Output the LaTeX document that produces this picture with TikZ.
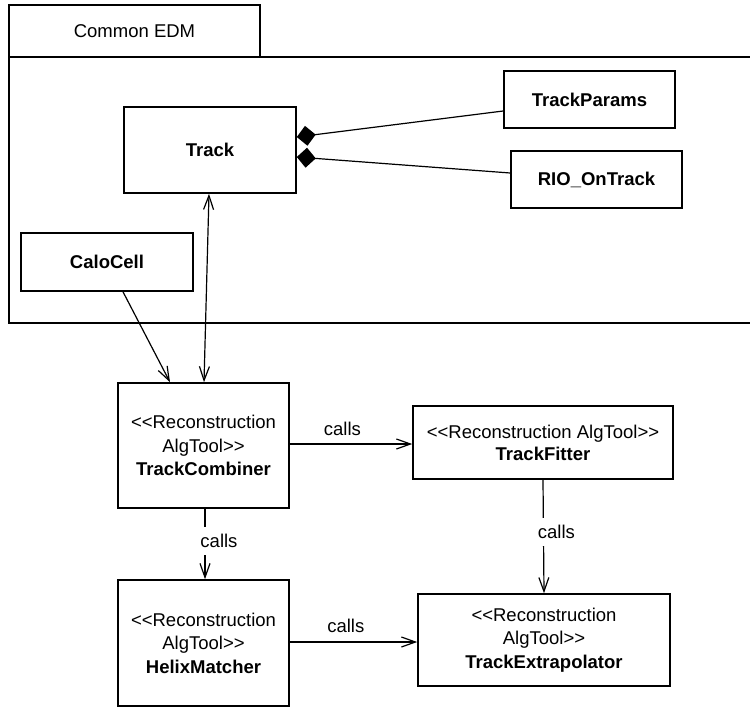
\documentclass[tikz,border=0pt]{standalone}
\usepackage{fontspec}
\setmainfont{Liberation Sans}
\usetikzlibrary{arrows.meta,calc}
% guillemet-free "<<" and ">>" (the kern stops the TeX ligature mapping)
\newcommand\ltlt{<\kern0pt<}
\newcommand\gtgt{>\kern0pt>}
\begin{document}
\begin{tikzpicture}[x=1bp,y=-1bp,
  every node/.style={font=\fontsize{18.5bp}{23.5bp}\selectfont},
  umlbox/.style={draw, line width=1.6bp, inner sep=0pt, align=center, anchor=center},
  link/.style={line width=1.2bp},
  barb/.tip={Straight Barb[length=14bp,width=10bp]},
  callarrow/.style={link, -barb},
  composition/.style={link, {Diamond[length=19bp,width=20bp]}-},
  callsabove/.style={inner sep=0pt, anchor=base},
  callsbreak/.style={fill=white, inner sep=7bp},
]
\useasboundingbox (0,0) rectangle (750,707);

% package "Common EDM": tab and open-ended body
\node[umlbox, minimum width=251bp, minimum height=52bp] (tab) at (134.5,31) {Common EDM};
\draw[line width=1.6bp] (750,57) -- (9,57) -- (9,323) -- (750,323);

% classes of the package
\node[umlbox, minimum width=172bp, minimum height=86bp] (track)  at (210,150)   {\textbf{Track}};
\node[umlbox, minimum width=171bp, minimum height=57bp] (params) at (589.5,99.5) {\textbf{TrackParams}};
\node[umlbox, minimum width=171bp, minimum height=57bp] (rio)    at (596.5,179.5) {\textbf{RIO\_OnTrack}};
\node[umlbox, minimum width=172bp, minimum height=58bp] (calo)   at (107,262)   {\textbf{CaloCell}};

% reconstruction tools
\node[umlbox, minimum width=171bp, minimum height=125bp] (combiner) at (203.5,445.5)
  {\ltlt Reconstruction\\AlgTool\gtgt\\\textbf{TrackCombiner}};
\node[umlbox, minimum width=260bp, minimum height=73bp, font=\fontsize{18.5bp}{22bp}\selectfont] (fitter) at (543,442.5)
  {\ltlt Reconstruction AlgTool\gtgt\\\textbf{TrackFitter}};
\node[umlbox, minimum width=171bp, minimum height=126bp] (helix) at (203.5,643)
  {\ltlt Reconstruction\\AlgTool\gtgt\\\textbf{HelixMatcher}};
\node[umlbox, minimum width=252bp, minimum height=92bp] (extrap) at (544,640)
  {\ltlt Reconstruction\\AlgTool\gtgt\\\textbf{TrackExtrapolator}};

% compositions of Track
\draw[composition] ($(track.east)+(0,-13)$) -- ($(params.west)+(0,11.5)$);
\draw[composition] ($(track.east)+(0,7)$) -- ($(rio.west)+(0,-6.5)$);

% navigable associations into the combiner
\draw[link, barb-barb] ($(track.south)+(-1,0)$) -- ($(combiner.north)+(0.5,0)$);
\draw[callarrow] ($(calo.south)+(16,0)$) -- ($(combiner.north)+(-33.5,0)$);

% "calls" dependencies
\draw[callarrow] ($(combiner.east)+(0,-1.5)$) -- node[callsabove, pos=0.43, yshift=8.5bp] {calls} ($(fitter.west)+(0,1.5)$);
\draw[callarrow] ($(helix.east)+(0,-1)$) -- node[callsabove, pos=0.44, yshift=9.5bp] {calls} ($(extrap.west)+(0,2)$);
\draw[callarrow] ($(combiner.south)+(1.5,0)$) -- node[callsbreak, pos=0.46, xshift=14bp] {calls} ($(helix.north)+(1.5,0)$);
\draw[callarrow] (fitter.south) -- node[callsbreak, pos=0.46, xshift=13bp] {calls} (extrap.north);
\end{tikzpicture}
\end{document}
